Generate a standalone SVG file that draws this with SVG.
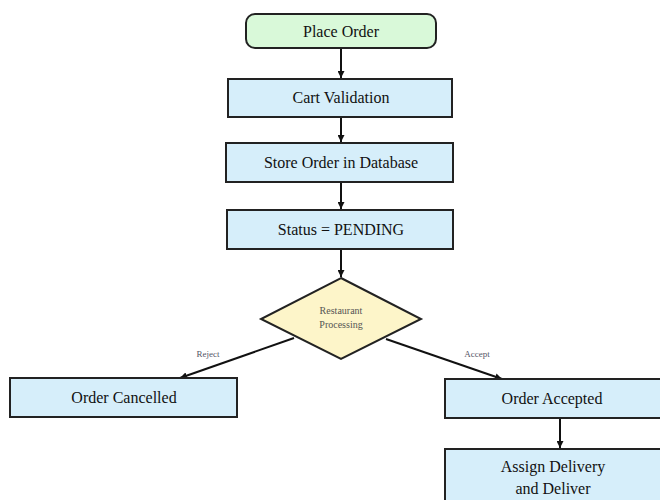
<svg xmlns="http://www.w3.org/2000/svg" width="660" height="500" viewBox="0 0 660 500">
<defs>
<marker id="ah" viewBox="0 0 10 10" refX="10" refY="5" markerWidth="7" markerHeight="7" orient="auto" markerUnits="userSpaceOnUse">
<path d="M0,0 L10,5 L0,10 z" fill="#111"/>
</marker>
<style>
.box{fill:#d6eefa;stroke:#222;stroke-width:2}
.start{fill:#d9f9d9;stroke:#222;stroke-width:2}
.dec{fill:#fdf5c9;stroke:#222;stroke-width:2}
.t{font-family:"Liberation Serif",serif;font-size:16px;fill:#111;text-anchor:middle}
.ts{font-family:"Liberation Serif",serif;font-size:10px;fill:#555;text-anchor:middle}
.lbl{font-family:"Liberation Serif",serif;font-size:9px;fill:#556;text-anchor:middle}
.c{stroke:#111;stroke-width:2;fill:none;marker-end:url(#ah)}
</style>
</defs>
<rect width="660" height="500" fill="#fff"/>
<g id="connectors">
<line class="c" x1="341" y1="48" x2="341" y2="78"/>
<line class="c" x1="341" y1="117" x2="341" y2="142"/>
<line class="c" x1="341" y1="182" x2="341" y2="209"/>
<line class="c" x1="341" y1="249" x2="341" y2="277"/>
<line class="c" x1="294" y1="338" x2="180" y2="378"/>
<line class="c" x1="386" y1="339" x2="502" y2="379"/>
<line class="c" x1="560" y1="418" x2="560" y2="448"/>
<text class="lbl" x="208" y="357">Reject</text>
<text class="lbl" x="477" y="357">Accept</text>
</g>
<g id="place-order">
<rect class="start" x="246" y="14" width="190" height="34" rx="9"/>
<text class="t" x="341" y="37">Place Order</text>
</g>
<g id="cart-validation">
<rect class="box" x="228" y="79" width="224" height="38"/>
<text class="t" x="341" y="103">Cart Validation</text>
</g>
<g id="store-order">
<rect class="box" x="226" y="143" width="227" height="39"/>
<text class="t" x="341" y="168">Store Order in Database</text>
</g>
<g id="status-pending">
<rect class="box" x="227" y="210" width="226" height="39"/>
<text class="t" x="341" y="235">Status = PENDING</text>
</g>
<g id="restaurant-processing">
<polygon class="dec" points="341,278 421,319 341,359 261,319"/>
<text class="ts" x="341" y="314">Restaurant</text>
<text class="ts" x="341" y="328">Processing</text>
</g>
<g id="order-cancelled">
<rect class="box" x="10" y="378" width="227" height="39"/>
<text class="t" x="124" y="403">Order Cancelled</text>
</g>
<g id="order-accepted">
<rect class="box" x="445" y="379" width="220" height="39"/>
<text class="t" x="552" y="404">Order Accepted</text>
</g>
<g id="assign-delivery">
<rect class="box" x="445" y="449" width="220" height="60"/>
<text class="t" x="553" y="472">Assign Delivery</text>
<text class="t" x="553" y="494">and Deliver</text>
</g>
</svg>
